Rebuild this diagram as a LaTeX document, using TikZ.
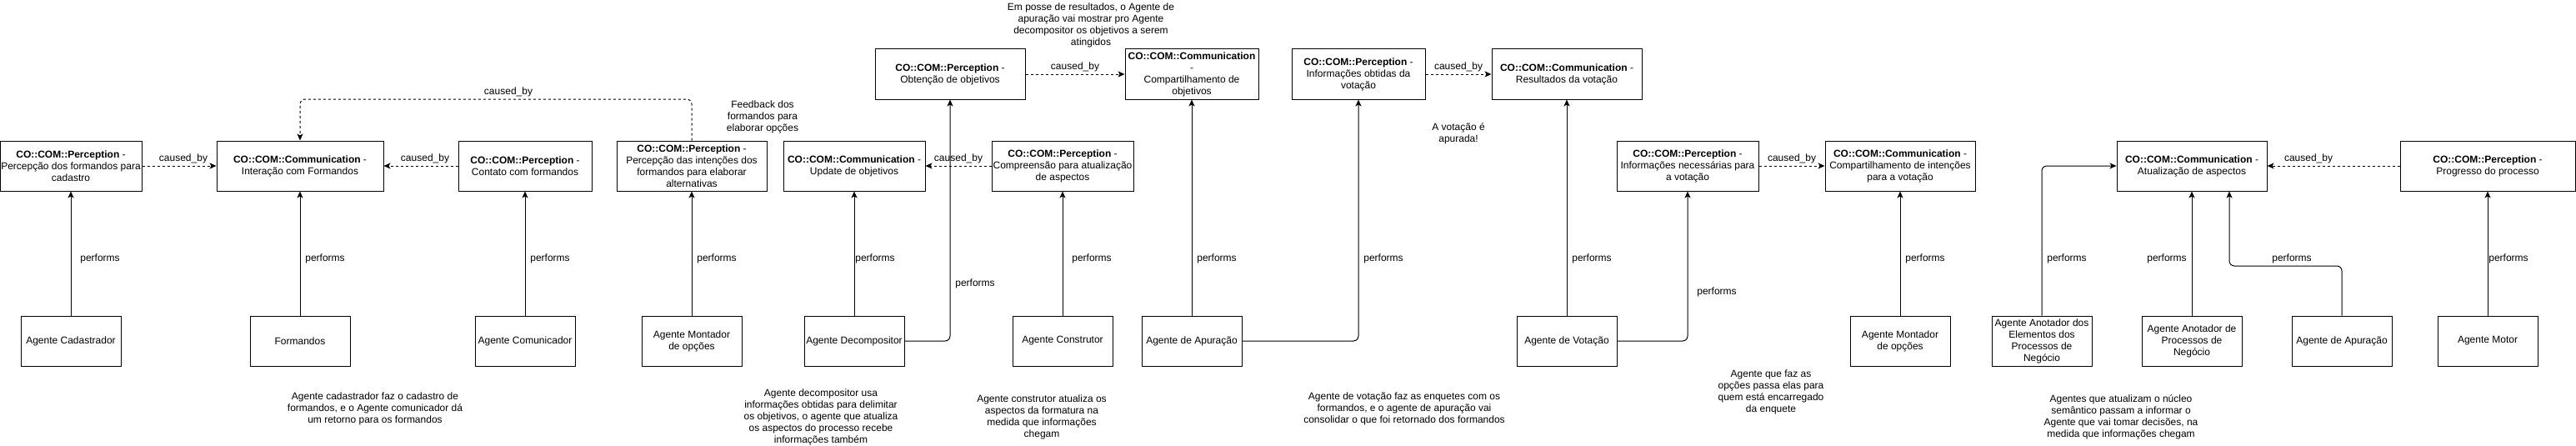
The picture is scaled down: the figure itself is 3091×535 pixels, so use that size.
\documentclass[tikz,border=0pt]{standalone}
\usepackage{fontspec}
\setmainfont{Liberation Sans}
\usetikzlibrary{arrows.meta}

\begin{document}
\begin{tikzpicture}[x=1pt,y=-1pt,
  every node/.style={font=\fontsize{12}{14}\selectfont},
  box/.style={draw,line width=1pt,minimum height=60pt,inner xsep=0pt,inner ysep=2pt,align=center},
  agent/.style={box,minimum width=120pt},
  txt/.style={inner sep=0pt,align=center},
  perf/.style={-{Stealth[length=8pt,width=7pt,inset=2pt]},line width=1pt,rounded corners=6pt},
  cause/.style={perf,dash pattern=on 3pt off 3pt}]
  \useasboundingbox (0,0) rectangle (3091,535);

  % perceptions and communications
  \node[box,minimum width=170pt] (p1) at (85,199) {\textbf{CO::COM::Perception} -\\Percepção dos formandos para\\cadastro};
  \node[box,minimum width=200pt] (c1) at (360,199) {\textbf{CO::COM::Communication} -\\Interação com Formandos};
  \node[box,minimum width=160pt] (p2) at (630,199) {\textbf{CO::COM::Perception} -\\Contato com formandos};
  \node[box,minimum width=180pt] (p3) at (830,199) {\textbf{CO::COM::Perception} -\\Percepção das intenções dos\\formandos para elaborar\\alternativas};
  \node[box,minimum width=170pt] (c2) at (1025,199) {\textbf{CO::COM::Communication} -\\Update de objetivos};
  \node[box,minimum width=180pt] (p4) at (1140,89) {\textbf{CO::COM::Perception} -\\Obtenção de objetivos};
  \node[box,minimum width=170pt] (p5) at (1275,199) {\textbf{CO::COM::Perception} -\\Compreensão para atualização\\de aspectos};
  \node[box,minimum width=160pt] (c3) at (1430,89) {\textbf{CO::COM::Communication}\\-\\Compartilhamento de\\objetivos};
  \node[box,minimum width=160pt] (p6) at (1630,89) {\textbf{CO::COM::Perception} -\\Informações obtidas da\\votação};
  \node[box,minimum width=180pt] (c4) at (1880,89) {\textbf{CO::COM::Communication} -\\Resultados da votação};
  \node[box,minimum width=170pt] (p7) at (2025,199) {\textbf{CO::COM::Perception} -\\Informações necessárias para\\a votação};
  \node[box,minimum width=180pt] (c5) at (2280,199) {\textbf{CO::COM::Communication} -\\Compartilhamento de intenções\\para a votação};
  \node[box,minimum width=180pt] (c6) at (2630,199) {\textbf{CO::COM::Communication} -\\Atualização de aspectos};
  \node[box,minimum width=210pt] (p8) at (2985,199) {\textbf{CO::COM::Perception} -\\Progresso do processo};

  % agents
  \node[agent] (ag1) at (85,409) {Agente Cadastrador};
  \node[agent] (ag2) at (360,409) {Formandos};
  \node[agent] (ag3) at (630,409) {Agente Comunicador};
  \node[agent] (ag4) at (830,409) {Agente Montador\\de opções};
  \node[agent] (ag5) at (1025,409) {Agente Decompositor};
  \node[agent] (ag6) at (1275,409) {Agente Construtor};
  \node[agent] (ag7) at (1430,409) {Agente de Apuração};
  \node[agent] (ag8) at (1880,409) {Agente de Votação};
  \node[agent] (ag9) at (2280,409) {Agente Montador\\de opções};
  \node[agent] (ag10) at (2450,409) {Agente Anotador dos\\Elementos dos\\Processos de\\Negócio};
  \node[agent] (ag11) at (2630,409) {Agente Anotador de\\Processos de\\Negócio};
  \node[agent] (ag12) at (2810,409) {Agente de Apuração};
  \node[agent] (ag13) at (2985,409) {Agente Motor};

  % performs
  \coordinate (loop) at (600,119);
  \coordinate (bend) at (2675,319);
  \draw[perf] (ag1) -- (p1);
  \draw[perf] (ag2) -- (c1);
  \draw[perf] (ag3) -- (p2);
  \draw[perf] (ag4) -- (p3);
  \draw[perf] (ag5) -- (c2);
  \draw[perf] (ag5.east) -| (p4.south);
  \draw[perf] (ag6) -- (p5);
  \draw[perf] (ag7) -- (c3);
  \draw[perf] (ag7.east) -| (p6.south);
  \draw[perf] (ag8) -- (c4);
  \draw[perf] (ag8.east) -| (p7.south);
  \draw[perf] (ag9) -- (c5);
  \draw[perf] (ag10.north) |- (c6.west);
  \draw[perf] (ag11) -- (c6);
  \draw[perf] (ag12.north) |- (bend) -- (bend |- c6.south);
  \draw[perf] (ag13) -- (p8);

  % caused_by
  \draw[cause] (p1.east) -- (c1.west);
  \draw[cause] (p2.west) -- (c1.east);
  \draw[cause] (p3.north) |- (loop) -| (c1.north);
  \draw[cause] (p5.west) -- (c2.east);
  \draw[cause] (p4.east) -- (c3.west);
  \draw[cause] (p6.east) -- (c4.west);
  \draw[cause] (p7.east) -- (c5.west);
  \draw[cause] (p8.west) -- (c6.east);

  \node[txt] (cb1) at (220,190) {caused\_by};
  \node[txt] (cb2) at (510,190) {caused\_by};
  \node[txt] (cb3) at (610,110) {caused\_by};
  \node[txt] (cb4) at (1150,190) {caused\_by};
  \node[txt] (cb5) at (1290,80) {caused\_by};
  \node[txt] (cb6) at (1750,80) {caused\_by};
  \node[txt] (cb7) at (2150,190) {caused\_by};
  \node[txt] (cb8) at (2770,190) {caused\_by};

  \node[txt] (pf1) at (120,310) {performs};
  \node[txt] (pf2) at (390,310) {performs};
  \node[txt] (pf3) at (660,310) {performs};
  \node[txt] (pf4) at (860,310) {performs};
  \node[txt] (pf5) at (1050,310) {performs};
  \node[txt] (pf6) at (1170,340) {performs};
  \node[txt] (pf7) at (1310,310) {performs};
  \node[txt] (pf8) at (1460,310) {performs};
  \node[txt] (pf9) at (1660,310) {performs};
  \node[txt] (pf10) at (1910,310) {performs};
  \node[txt] (pf11) at (2060,350) {performs};
  \node[txt] (pf12) at (2310,310) {performs};
  \node[txt] (pf13) at (2480,310) {performs};
  \node[txt] (pf14) at (2600,310) {performs};
  \node[txt] (pf15) at (2750,310) {performs};
  \node[txt] (pf16) at (3010,310) {performs};

  % notes
  \node[txt] (n1) at (450,490) {Agente cadastrador faz o cadastro de\\formandos, e o Agente comunicador dá\\um retorno para os formandos};
  \node[txt] (n2) at (915,140) {Feedback dos\\formandos para\\elaborar opções};
  \node[txt] (n3) at (1309,30) {Em posse de resultados, o Agente de\\apuração vai mostrar pro Agente\\decompositor os objetivos a serem\\atingidos};
  \node[txt] (n4) at (985,500) {Agente decompositor usa\\informações obtidas para delimitar\\os objetivos, o agente que atualiza\\os aspectos do processo recebe\\informações também};
  \node[txt] (n5) at (1250,500) {Agente construtor atualiza os\\aspectos da formatura na\\medida que informações\\chegam};
  \node[txt] (n6) at (1750,160) {A votação é\\apurada!};
  \node[txt] (n7) at (1685,490) {Agente de votação faz as enquetes com os\\formandos, e o agente de apuração vai\\consolidar o que foi retornado dos formandos};
  \node[txt] (n8) at (2125,470) {Agente que faz as\\opções passa elas para\\quem está encarregado\\da enquete};
  \node[txt] (n9) at (2545,500) {Agentes que atualizam o núcleo\\semântico passam a informar o\\Agente que vai tomar decisões, na\\medida que informações chegam};
\end{tikzpicture}
\end{document}
